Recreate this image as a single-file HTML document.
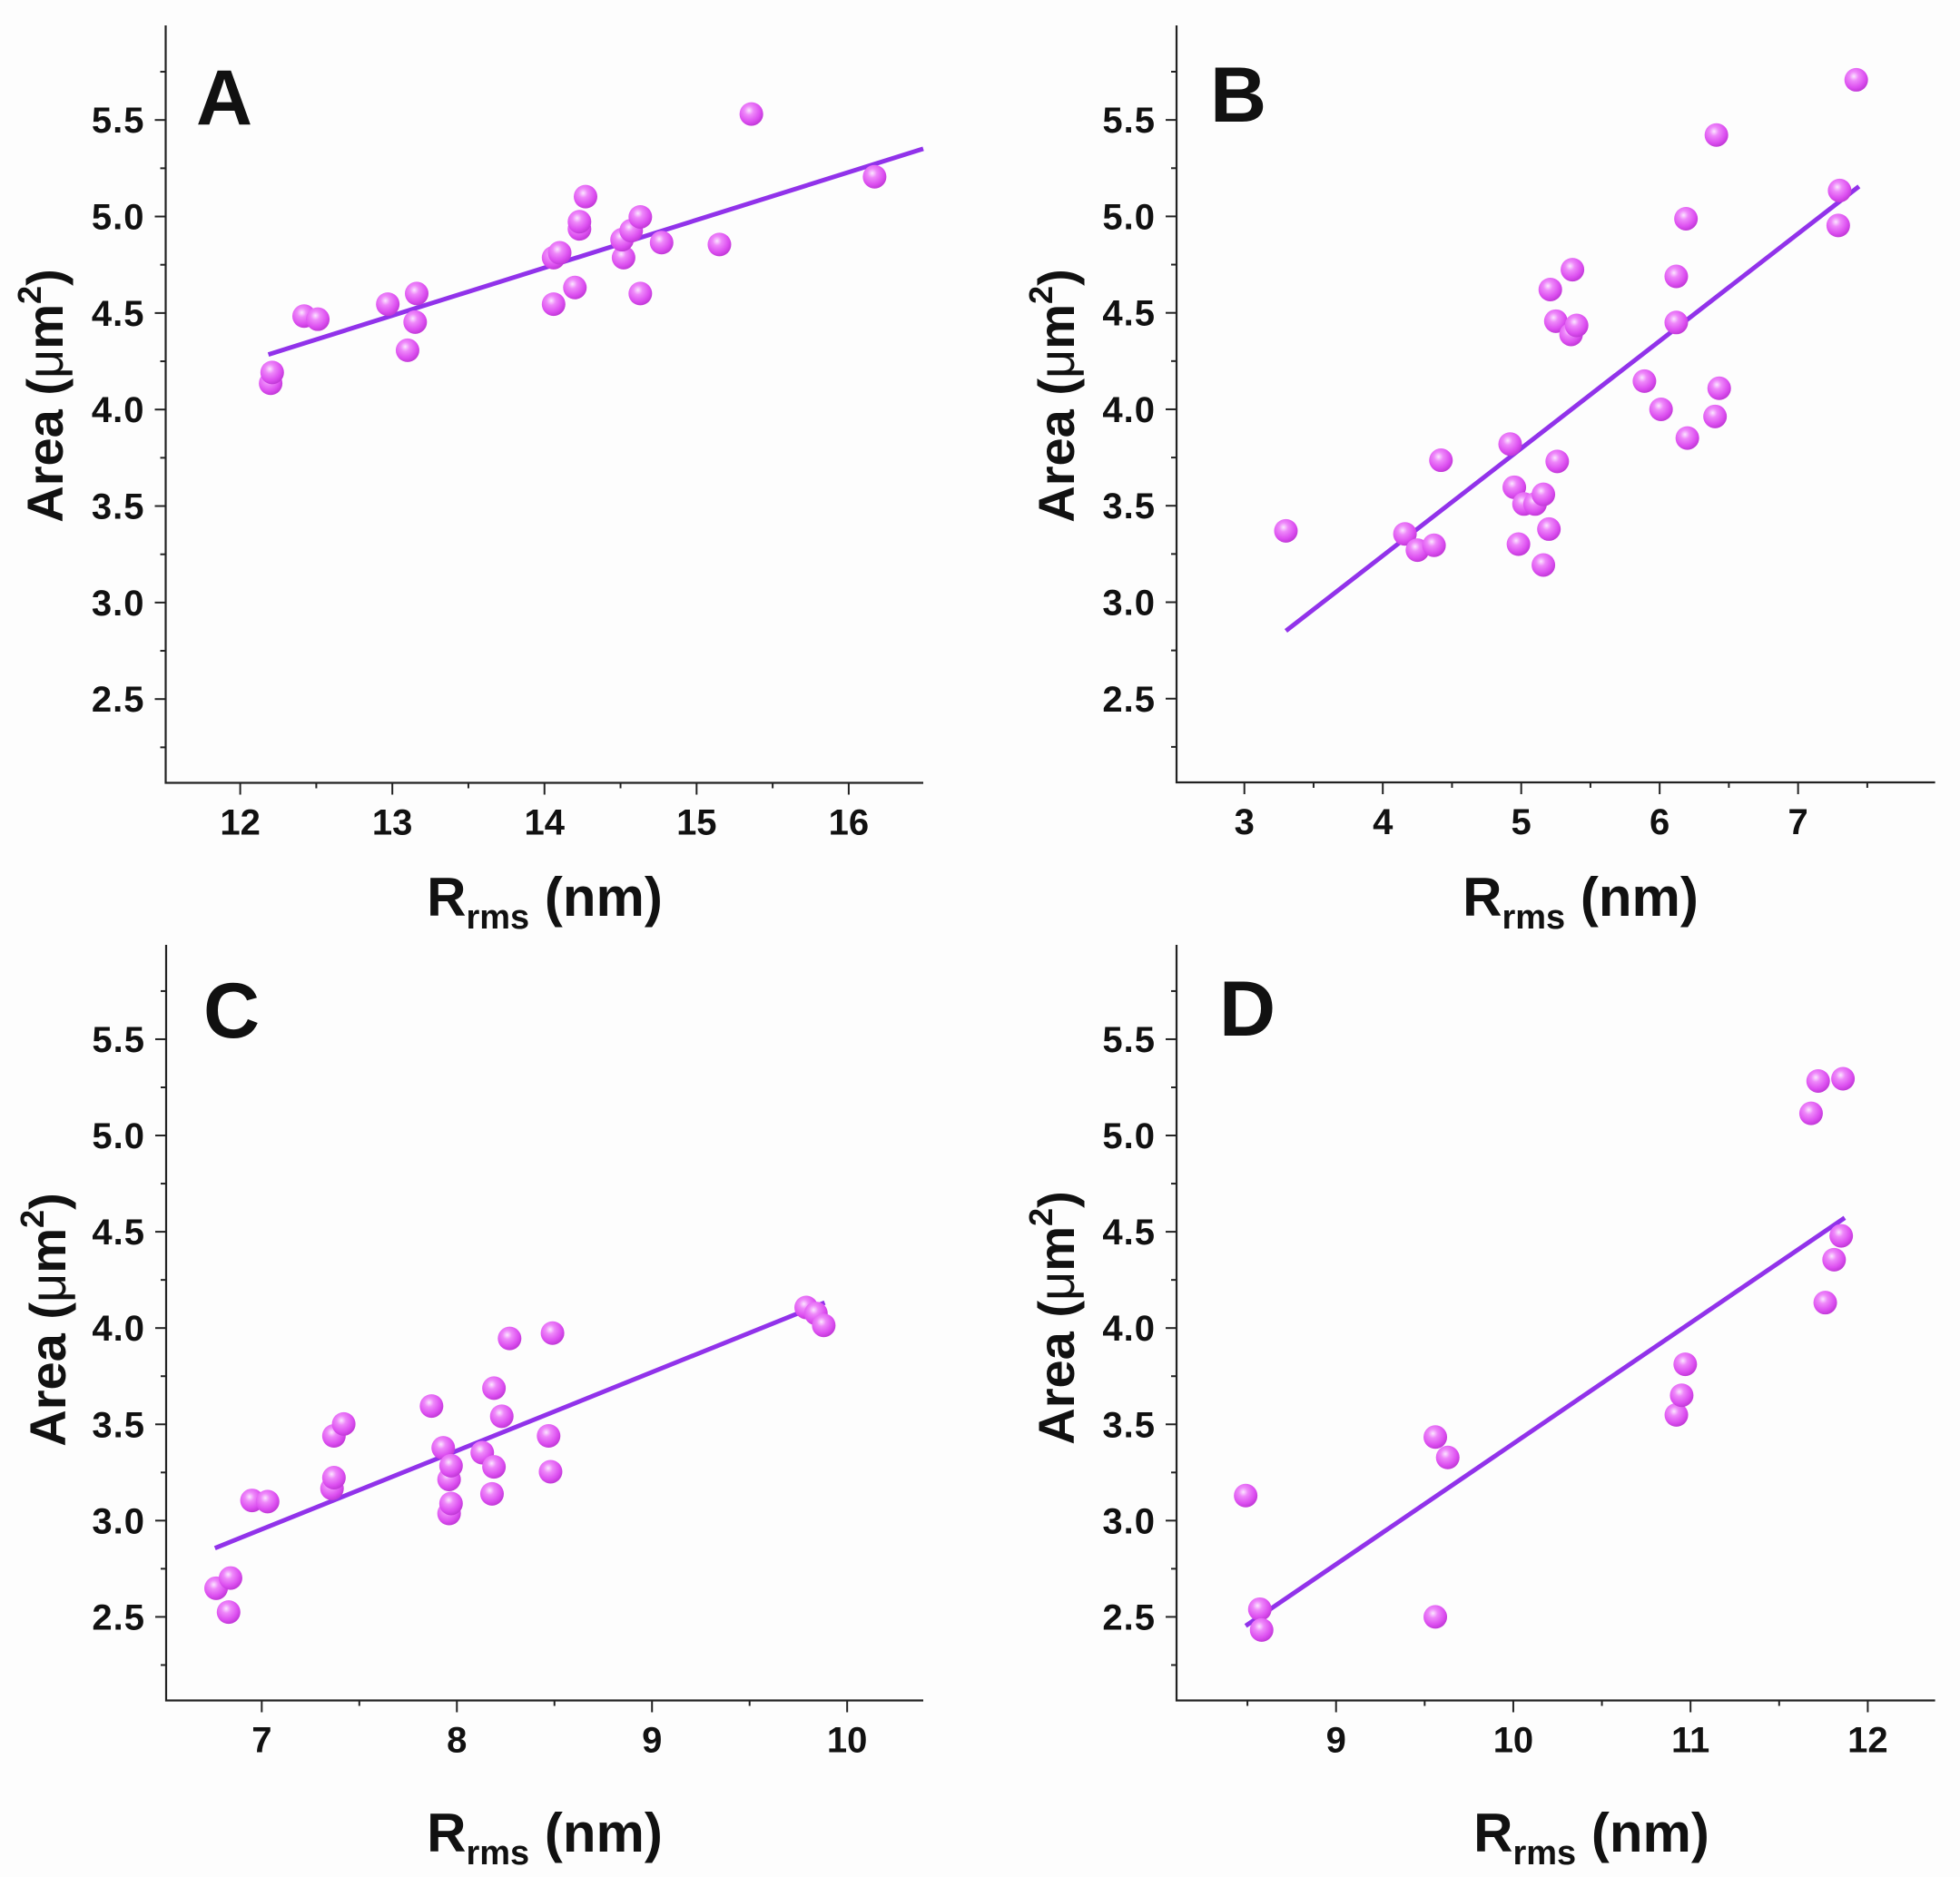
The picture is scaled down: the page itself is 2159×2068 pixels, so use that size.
<!DOCTYPE html>
<html><head><meta charset="utf-8"><style>
html,body{margin:0;padding:0;background:#fff;}
svg{display:block;font-family:"Liberation Sans",Arial,sans-serif;}
.tk{font-size:40px;font-weight:bold;fill:#111;}
.ttl{font-weight:bold;fill:#111;}
</style></head><body>
<svg id="fig" width="2159" height="2068" viewBox="0 0 2159 2068" xmlns="http://www.w3.org/2000/svg">
<defs>
<radialGradient id="ball" cx="0.4" cy="0.35" r="0.65">
<stop offset="0" stop-color="#fbe6ff"/>
<stop offset="0.3" stop-color="#ee88fa"/>
<stop offset="0.75" stop-color="#dc4ef0"/>
<stop offset="1" stop-color="#c23ad8"/>
</radialGradient>
</defs>
<rect x="0" y="0" width="2159" height="2068" fill="#fdfdfd"/>
</svg>
<script>
// Panel A data
const aX = [12.20,12.21,12.42,12.51,12.97,13.16,13.15,13.10,14.06,14.06,14.10,14.20,14.23,14.23,14.27,14.52,14.51,14.57,14.63,14.63,14.77,15.15,15.36,16.17];
const aY = [4.136,4.192,4.484,4.468,4.546,4.601,4.453,4.307,4.546,4.787,4.812,4.632,4.936,4.973,5.103,4.787,4.880,4.927,4.998,4.601,4.865,4.855,5.531,5.206];
const aFit = [0.2476, 1.268];      // slope, intercept
const aFitRange = [12.185, 16.49];
const aXTicks = [12,13,14,15,16];
// Panel B data
const bX = [3.30,4.16,4.25,4.37,4.42,4.92,4.95,4.98,5.02,5.10,5.16,5.16,5.20,5.26,5.21,5.25,5.36,5.37,5.40,5.89,6.01,6.12,6.12,6.19,6.20,6.40,6.43,6.41,7.29,7.30,7.42];
const bY = [3.370,3.354,3.270,3.295,3.736,3.820,3.596,3.301,3.509,3.509,3.559,3.193,3.379,3.730,4.621,4.457,4.388,4.724,4.435,4.146,4.000,4.689,4.450,4.988,3.851,3.963,4.109,5.422,4.953,5.134,5.708];
const bFit = [0.5565, 1.015];
const bFitRange = [3.30, 7.44];
const bXTicks = [3,4,5,6,7];
// Panel C data
const cX = [6.766,6.84,6.83,6.95,7.03,7.36,7.37,7.37,7.42,7.87,7.93,7.96,7.97,7.96,7.97,8.13,8.19,8.19,8.18,8.23,8.27,8.47,8.48,8.49,9.79,9.84,9.88];
const cY = [2.649,2.702,2.525,3.105,3.099,3.167,3.223,3.440,3.502,3.595,3.378,3.214,3.285,3.037,3.089,3.353,3.688,3.279,3.139,3.542,3.946,3.440,3.254,3.974,4.107,4.076,4.014];
const cFit = [0.408, 0.099];
const cFitRange = [6.76, 9.885];
const cXTicks = [7,8,9,10];
// Panel D data
const dX = [8.49,8.57,8.58,9.56,9.63,9.56,10.92,10.95,10.97,11.68,11.72,11.86,11.76,11.81,11.85];
const dY = [3.130,2.540,2.432,3.434,3.328,2.500,3.549,3.651,3.812,5.115,5.283,5.295,4.132,4.355,4.479];
const dFit = [0.627, -2.870];
const dFitRange = [8.49, 11.87];
const dXTicks = [9,10,11,12];
// Shared y axis
const yTicks = [2.5,3.0,3.5,4.0,4.5,5.0,5.5];
const yMinor = [2.25,2.75,3.25,3.75,4.25,4.75,5.25,5.75];
const yDomain = [2.066, 5.99];

const NS = "http://www.w3.org/2000/svg";
const svg = document.getElementById('fig');
function mk(tag, attrs, parent){
  const e = document.createElementNS(NS, tag);
  for (const k in attrs) e.setAttribute(k, attrs[k]);
  (parent||svg).appendChild(e);
  return e;
}

const panels = [
  {id:'a', letter:'A', X:aX, Y:aY, fit:aFit, fr:aFitRange, xt:aXTicks, L:182.5, R:1017, T:28, B:862.5, xd:[11.51,16.49], lx:216, ly:137, ytx:69, yty:436, xtx:600, xty:1009},
  {id:'b', letter:'B', X:bX, Y:bY, fit:bFit, fr:bFitRange, xt:bXTicks, L:1296, R:2131.6, T:28, B:862, xd:[2.51,7.99], lx:1333, ly:134, ytx:1183, yty:436, xtx:1741, xty:1009},
  {id:'c', letter:'C', X:cX, Y:cY, fit:cFit, fr:cFitRange, xt:cXTicks, L:183, R:1017, T:1041, B:1873.5, xd:[6.51,10.39], lx:224, ly:1143, ytx:72, yty:1454, xtx:600, xty:2040},
  {id:'d', letter:'D', X:dX, Y:dY, fit:dFit, fr:dFitRange, xt:dXTicks, L:1296, R:2131.6, T:1041, B:1873.5, xd:[8.10,12.38], lx:1343, ly:1141, ytx:1183, yty:1452, xtx:1753, xty:2040}
];

panels.forEach(p => {
  const g = mk('g', {});
  
  
  const sx = v => p.L + (v - p.xd[0]) / (p.xd[1] - p.xd[0]) * (p.R - p.L);
  const sy = v => p.B - (v - yDomain[0]) / (yDomain[1] - yDomain[0]) * (p.B - p.T);

  const ax = mk('path', {d:`M${p.L},${p.T} L${p.L},${p.B} L${p.R},${p.B}`, fill:'none', stroke:'#222', 'stroke-width':2.2}, g);
  
  

  yTicks.forEach(v => {
    const y = sy(v);
    mk('line', {x1:p.L-12, x2:p.L, y1:y, y2:y, stroke:'#222', 'stroke-width':2}, g);
    const t = mk('text', {x:p.L-23, y:y+14, 'text-anchor':'end', class:'tk', 'letter-spacing':'1'}, g);
    t.textContent = v.toFixed(1);
    
    
  });
  yMinor.forEach(v => {
    const y = sy(v);
    mk('line', {x1:p.L-6, x2:p.L, y1:y, y2:y, stroke:'#222', 'stroke-width':2}, g);
  });
  p.xt.forEach(v => {
    const x = sx(v);
    mk('line', {x1:x, x2:x, y1:p.B, y2:p.B+13, stroke:'#222', 'stroke-width':2}, g);
    const t = mk('text', {x:x, y:p.B+57, 'text-anchor':'middle', class:'tk'}, g);
    t.textContent = String(v);
    
    
  });
  for (let v = Math.ceil(p.xd[0]*2)/2; v <= p.xd[1]; v += 0.5) {
    if (Math.abs(v - Math.round(v)) < 1e-6) continue;
    const x = sx(v);
    mk('line', {x1:x, x2:x, y1:p.B, y2:p.B+6, stroke:'#222', 'stroke-width':2}, g);
  }

  const fl = mk('line', {x1:sx(p.fr[0]), y1:sy(p.fit[0]*p.fr[0]+p.fit[1]), x2:sx(p.fr[1]), y2:sy(p.fit[0]*p.fr[1]+p.fit[1]), stroke:'#9132ea', 'stroke-width':5}, g);
  
  

  p.X.forEach((xv, i) => {
    const c = mk('circle', {cx:sx(xv), cy:sy(p.Y[i]), r:13, fill:'url(#ball)'}, g);
    
    
  });

  const lt = mk('text', {x:p.lx, y:p.ly, class:'ttl', 'font-size':86}, g);
  lt.textContent = p.letter;
  
  

  const yt = mk('text', {x:0, y:0, class:'ttl', 'font-size':56, 'text-anchor':'middle', transform:`translate(${p.ytx},${p.yty}) rotate(-90)`}, g);
  yt.innerHTML = 'Area (<tspan font-weight="normal">μ</tspan>m<tspan font-size="36" dy="-24">2</tspan><tspan dy="24">)</tspan>';
  
  

  const xt = mk('text', {x:p.xtx, y:p.xty, class:'ttl', 'font-size':60, 'text-anchor':'middle'}, g);
  xt.innerHTML = 'R<tspan font-size="38" dy="14">rms</tspan><tspan dy="-14"> (nm)</tspan>';
  
  
});
</script>
</body></html>
